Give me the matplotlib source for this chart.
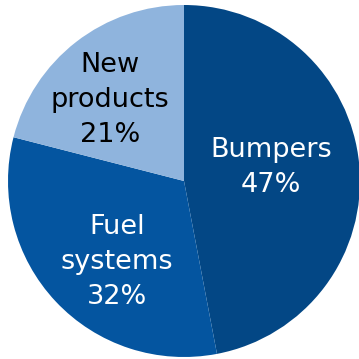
import matplotlib
matplotlib.use("Agg")
from matplotlib import pyplot as plt

# Slice data
labels = ["Bumpers", "Fuel\nsystems", "New\nproducts"]
shares = [47, 32, 21]
colors = ["#034785", "#0455A0", "#8FB4DD"]
text_colors = ["white", "white", "black"]

# label centres in data units (pie radius = 1)
label_xy = [(0.494, 0.074), (-0.381, -0.46), (-0.42, 0.46)]

fig = plt.figure(figsize=(3.59, 3.59), dpi=100)
cx, cy, r = 184, 181, 176   # pie centre / radius in pixels
ax = fig.add_axes([(cx - r) / 359, (359 - cy - r) / 359, 2 * r / 359, 2 * r / 359])

ax.pie(shares, colors=colors, startangle=90, counterclock=False,
       wedgeprops=dict(linewidth=0))
ax.set_xlim(-1, 1)
ax.set_ylim(-1, 1)
ax.set_aspect("equal")
ax.axis("off")

for lab, val, (x, y), tc in zip(labels, shares, label_xy, text_colors):
    ax.text(x, y, "{}\n{}%".format(lab, val), ha="center", va="center",
            color=tc, fontsize=19.5, family="DejaVu Sans", linespacing=1.45)

plt.savefig("out.png", dpi=100)
